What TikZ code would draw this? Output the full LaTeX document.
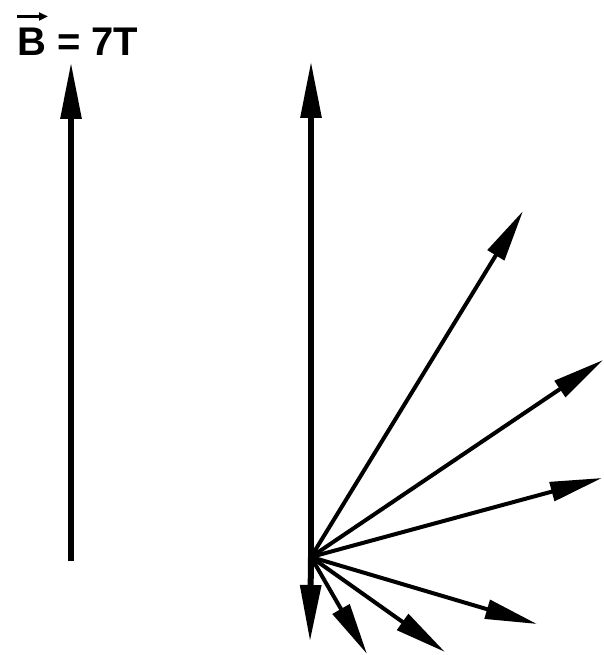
\documentclass[tikz,border=0pt]{standalone}
\usepackage{fontspec}
\setmainfont{Liberation Sans}
\usetikzlibrary{arrows.meta}
\tikzset{
  field/.style={line width=6pt, -{Triangle[length=57pt,width=20pt]}},
  spin/.style={line width=4pt, -{Triangle[length=52pt,width=19pt]}},
  vecbar/.style={line width=2.6pt, -{Triangle[length=9pt,width=8pt]}}
}
\begin{document}
\begin{tikzpicture}[x=1pt,y=-1pt]
    \useasboundingbox (0,0) rectangle (604,655);
    % label of the field
    \node at (17,56) [anchor=base west,inner sep=0pt] (lbl)
      {\fontsize{40}{46}\selectfont\bfseries B = 7T};
    \coordinate (v0) at (17,16.5);
    \coordinate (v1) at (48,16.5);
    \draw [vecbar] (v0) to (v1);
    % field direction
    \coordinate (F0) at (71,561);
    \coordinate (F1) at (71,62);
    \draw [field] (F0) to (F1);
    % origin of the fan
    \coordinate (O) at (311,557);
    \coordinate (up) at (311,61);
    \coordinate (dn) at (310,642);
    \draw [field] (O) to (up);
    \draw [field] (O) to (dn);
    \coordinate (a1) at (523,211);
    \coordinate (a2) at (603,360);
    \coordinate (a3) at (602,478);
    \coordinate (a4) at (537,624);
    \coordinate (a5) at (445,652);
    \coordinate (a6) at (367,654);
    \foreach \t in {a1,a2,a3,a4,a5,a6}
      \draw [spin] (O) to (\t);
\end{tikzpicture}
\end{document}
